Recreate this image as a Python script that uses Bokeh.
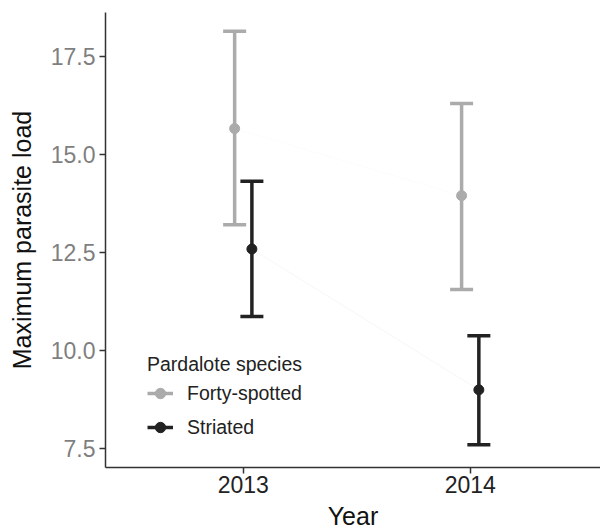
from bokeh.plotting import figure
from bokeh.models import (ColumnDataSource, Range1d, Whisker, TeeHead,
                          Legend, LegendItem, FixedTicker, NumeralTickFormatter)
from bokeh.transform import dodge
from bokeh.embed import file_html
from bokeh.resources import INLINE

years = ["2013", "2014"]
species = ["Forty-spotted", "Striated"]
fs_mean = [15.66, 13.95]
fs_lower = [13.21, 11.56]
fs_upper = [18.14, 16.30]
st_mean = [12.59, 9.00]
st_lower = [10.87, 7.60]
st_upper = [14.32, 10.38]
y_ticks = [7.5, 10.0, 12.5, 15.0, 17.5]

FONT = "Liberation Sans"
colors = ["#ababab", "#222222"]
offsets = [-0.038, 0.038]

# discrete year positions on the x scale (1, 2, ...)
year_pos = list(range(1, len(years) + 1))

p = figure(x_range=Range1d(0.393, 2.574), y_range=Range1d(7.02, 18.62),
           width=600, height=532, output_backend="svg", toolbar_location=None,
           min_border_left=105, min_border_right=0, min_border_top=12, min_border_bottom=65)
p.outline_line_color = None
p.xgrid.visible = False
p.ygrid.visible = False
p.background_fill_color = "white"

items = []
for name, mean, lower, upper, col, off in zip(species, [fs_mean, st_mean], [fs_lower, st_lower],
                                             [fs_upper, st_upper], colors, offsets):
    src = ColumnDataSource(dict(x=year_pos, year=years, mean=mean, lower=lower, upper=upper))
    xd = dodge("x", off)
    p.line(x=xd, y="mean", source=src, line_color=col, line_alpha=0.04, line_width=1)
    seg = p.segment(x0=xd, y0="lower", x1=xd, y1="upper", source=src,
                    line_color=col, line_width=3.5)
    w = Whisker(base=xd, upper="upper", lower="lower", source=src, line_alpha=0,
                upper_head=TeeHead(size=23, line_color=col, line_width=3.5),
                lower_head=TeeHead(size=23, line_color=col, line_width=3.5))
    p.add_layout(w)
    sc = p.scatter(x=xd, y="mean", source=src, size=10, fill_color=col, line_color=col)
    items.append(LegendItem(label=name, renderers=[seg, sc]))

legend = Legend(items=items, title="Pardalote species", location=(42, 23),
                label_text_font=FONT, label_text_font_size="19.5px", label_text_color="#222222",
                title_text_font=FONT, title_text_font_size="19.5px", title_text_font_style="normal",
                title_text_color="#222222", title_standoff=-3,
                glyph_width=26, glyph_height=34, label_height=34, spacing=0, padding=0, margin=0,
                label_standoff=14, border_line_alpha=0, background_fill_alpha=0)
p.add_layout(legend)

for ax in (p.xaxis[0], p.yaxis[0]):
    ax.axis_line_color = "#333333"
    ax.axis_line_width = 1.5
    ax.major_tick_line_color = "#333333"
    ax.major_tick_line_width = 1.5
    ax.major_tick_out = 6
    ax.major_tick_in = 0
    ax.minor_tick_line_color = None
    ax.major_label_text_font = FONT
    ax.major_label_text_font_size = "23px"
    ax.axis_label_text_font = FONT
    ax.axis_label_text_font_size = "25px"
    ax.axis_label_text_font_style = "normal"
    ax.axis_label_text_color = "#111111"

p.xaxis.axis_label = "Year"
p.xaxis.ticker = FixedTicker(ticks=year_pos)
p.xaxis.major_label_overrides = {x: y for x, y in zip(year_pos, years)}
p.xaxis.major_label_text_color = "#222222"
p.xaxis.major_label_standoff = 2
p.xaxis.axis_label_standoff = 6

p.yaxis.axis_label = "Maximum parasite load"
p.yaxis.ticker = FixedTicker(ticks=y_ticks)
p.yaxis.formatter = NumeralTickFormatter(format="0.0")
p.yaxis.major_label_text_color = "#7f7f7f"
p.yaxis.major_label_standoff = 4
p.yaxis.axis_label_standoff = 12

open("out.html", "w").write(file_html(p, INLINE))
